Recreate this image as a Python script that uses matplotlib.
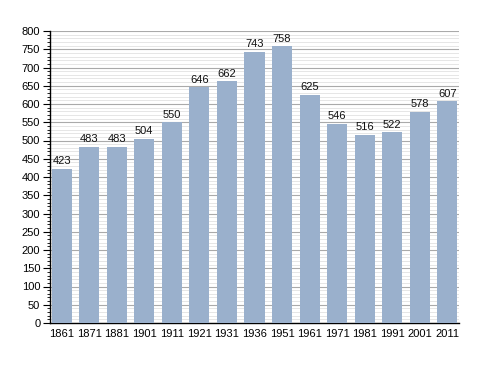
import matplotlib
matplotlib.use("Agg")
import matplotlib.pyplot as plt
from matplotlib.ticker import MultipleLocator

years = ["1861", "1871", "1881", "1901", "1911", "1921", "1931", "1936", "1951",
         "1961", "1971", "1981", "1991", "2001", "2011"]
population = [423, 483, 483, 504, 550, 646, 662, 743, 758, 625, 546, 516, 522, 578, 607]

plt.rcParams['font.family'] = ['Liberation Sans', 'DejaVu Sans']

fig = plt.figure(figsize=(4.88, 3.73), dpi=100)
ax = fig.add_axes([50/488, 1-323/373, (459-50)/488, (323-31)/373])

x = list(range(len(years)))
ax.bar(x, population, width=0.73, color='#9ab0cc', zorder=3)
for xi, v in zip(x, population):
    ax.text(xi, v + 7, str(v), ha='center', va='bottom', fontsize=8, color='#111111', zorder=4)

ax.set_xlim(-0.42, 14.42)
ax.set_ylim(0, 800)
ax.set_xticks(x)
ax.set_xticklabels(years, fontsize=8)
ax.tick_params(axis='x', length=0, pad=4)
ax.yaxis.set_major_locator(MultipleLocator(50))
ax.yaxis.set_minor_locator(MultipleLocator(10))
ax.tick_params(axis='y', which='major', length=5, width=0.8, labelsize=8, pad=2)
ax.tick_params(axis='y', which='minor', length=2.5, width=0.6)
ax.grid(axis='y', which='major', color='#aaaaaa', linewidth=0.8, zorder=1)
ax.grid(axis='y', which='minor', color='#e2e2e2', linewidth=0.6, zorder=0)
for s in ['top', 'right']:
    ax.spines[s].set_visible(False)
ax.spines['left'].set_linewidth(1.0)
ax.spines['bottom'].set_linewidth(1.0)

fig.savefig("out.png", dpi=100)
